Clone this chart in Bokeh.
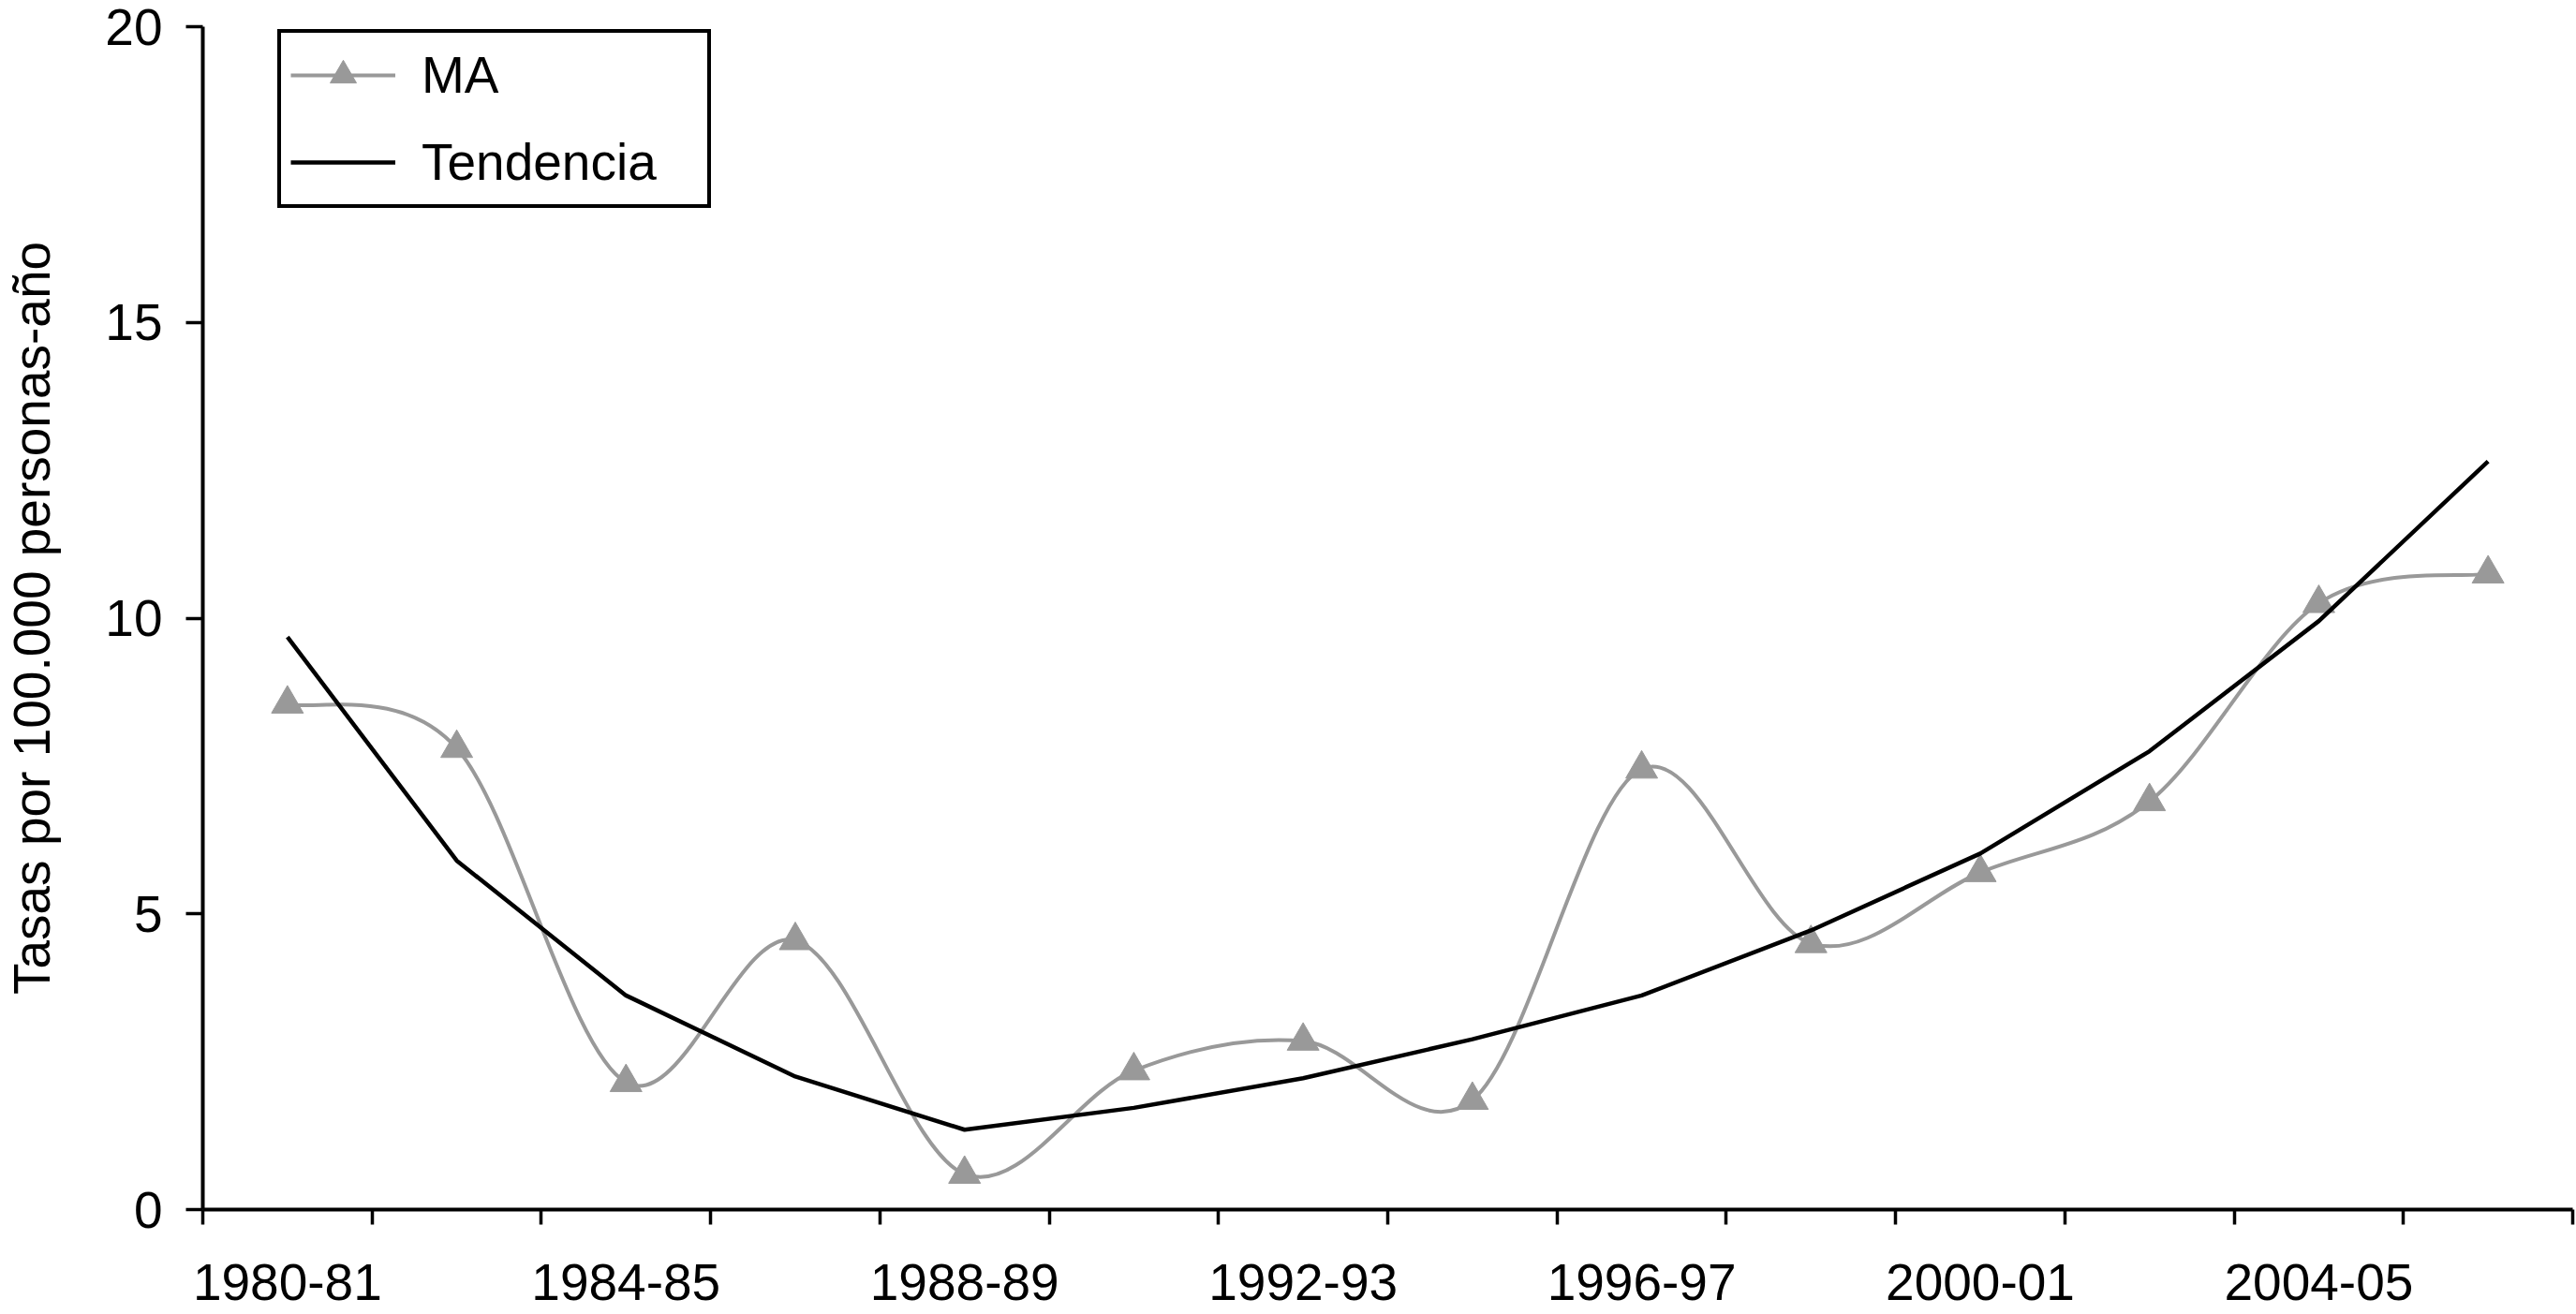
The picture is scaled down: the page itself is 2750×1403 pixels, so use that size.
from bokeh.plotting import figure
from bokeh.models import Range1d, FixedTicker, Legend, LegendItem, ColumnDataSource
from bokeh.embed import file_html
from bokeh.resources import INLINE

# ---- data ----
periods = ["1980-81", "1982-83", "1984-85", "1986-87", "1988-89", "1990-91", "1992-93",
           "1994-95", "1996-97", "1998-99", "2000-01", "2002-03", "2004-05", "2006-07"]
ma = [8.55, 7.8, 2.15, 4.55, 0.6, 2.35, 2.85, 1.85, 7.45, 4.5, 5.7, 6.9, 10.25, 10.75]
tendencia = [9.68, 5.9, 3.62, 2.25, 1.35, 1.72, 2.22, 2.88, 3.62, 4.72, 6.02, 7.75, 9.95, 12.65]
y_ticks = [0, 5, 10, 15, 20]
y_title = "Tasas por 100.000 personas-año"

FONT = "Liberation Sans"
GRAY = "#999999"

n = len(periods)
xs = [i + 0.5 for i in range(n)]  # category centres

# smooth (Excel-like) curve segments through the MA points
seg = dict(x0=[], y0=[], x1=[], y1=[], cx0=[], cy0=[], cx1=[], cy1=[])
for i in range(n - 1):
    xp, yp = (xs[i - 1], ma[i - 1]) if i > 0 else (xs[i], ma[i])
    xn, yn = (xs[i + 2], ma[i + 2]) if i + 2 < n else (xs[i + 1], ma[i + 1])
    seg["x0"].append(xs[i]); seg["y0"].append(ma[i])
    seg["x1"].append(xs[i + 1]); seg["y1"].append(ma[i + 1])
    seg["cx0"].append(xs[i] + (xs[i + 1] - xp) / 6)
    seg["cy0"].append(ma[i] + (ma[i + 1] - yp) / 6)
    seg["cx1"].append(xs[i + 1] - (xn - xs[i]) / 6)
    seg["cy1"].append(ma[i + 1] - (yn - ma[i]) / 6)

src_pts = ColumnDataSource(dict(x=xs, ma=ma, tend=tendencia))
src_seg = ColumnDataSource(seg)

p = figure(width=2750, height=1403,
           x_range=Range1d(0, n), y_range=Range1d(y_ticks[0], y_ticks[-1]),
           output_backend="svg", toolbar_location=None,
           min_border_left=215, min_border_right=4, min_border_top=28, min_border_bottom=112)
p.xgrid.visible = False
p.ygrid.visible = False
p.outline_line_color = None
p.background_fill_color = "white"

r_curve = p.bezier(x0="x0", y0="y0", x1="x1", y1="y1", cx0="cx0", cy0="cy0", cx1="cx1", cy1="cy1",
                   source=src_seg, line_color=GRAY, line_width=4)
r_pts = p.scatter("x", "ma", source=src_pts, marker="triangle", size=34,
                  fill_color=GRAY, line_color=GRAY)
r_trend = p.line("x", "tend", source=src_pts, line_color="black", line_width=4.5)

# x axis: tick marks at category boundaries, labels at every other category
xa = p.xaxis[0]
xa.ticker = FixedTicker(ticks=[xs[i] for i in range(0, n, 2)], minor_ticks=list(range(n + 1)))
xa.major_label_overrides = {xs[i]: periods[i] for i in range(0, n, 2)}
xa.major_tick_line_color = None
xa.major_tick_out = 16
xa.major_tick_in = 0
xa.minor_tick_out = 16
xa.minor_tick_in = 0
xa.minor_tick_line_color = "black"
xa.minor_tick_line_width = 3.5
xa.axis_line_width = 4
xa.axis_line_color = "black"
xa.major_label_standoff = 42
xa.major_label_text_font = FONT
xa.major_label_text_font_size = "55px"
xa.major_label_text_color = "black"

ya = p.yaxis[0]
ya.ticker = FixedTicker(ticks=y_ticks, minor_ticks=[])
ya.major_tick_out = 18
ya.major_tick_in = 0
ya.major_tick_line_width = 3.5
ya.major_tick_line_color = "black"
ya.axis_line_width = 4
ya.axis_line_color = "black"
ya.major_label_standoff = 25
ya.major_label_text_font = FONT
ya.major_label_text_font_size = "55px"
ya.major_label_text_color = "black"
ya.axis_label = y_title
ya.axis_label_text_font = FONT
ya.axis_label_text_font_size = "55px"
ya.axis_label_text_font_style = "normal"
ya.axis_label_text_color = "black"
ya.axis_label_standoff = 44

legend = Legend(items=[LegendItem(label="MA", renderers=[r_curve, r_pts]),
                       LegendItem(label="Tendencia", renderers=[r_trend])],
                location=(80, 1069), margin=0, padding=10, spacing=23,
                glyph_width=112, glyph_height=70, label_height=70, label_width=295,
                label_standoff=28, label_text_font=FONT, label_text_font_size="55px",
                label_text_color="black", border_line_color="black", border_line_alpha=1.0,
                border_line_width=4,
                background_fill_color="white", background_fill_alpha=1.0)
p.add_layout(legend)

open("out.html", "w").write(file_html(p, INLINE))
